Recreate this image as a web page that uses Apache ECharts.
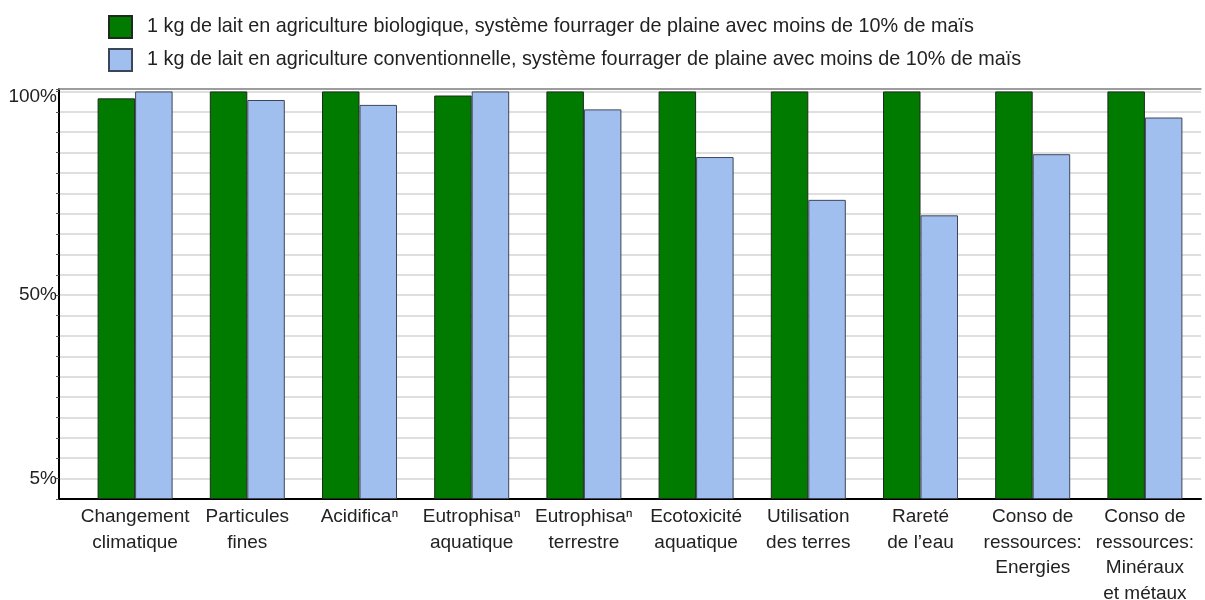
<!DOCTYPE html>
<html>
<head>
<meta charset="utf-8">
<script src="https://cdn.jsdelivr.net/npm/echarts@6/dist/echarts.min.js"></script>
<style>
  html, body { margin: 0; padding: 0; background: #fff; }
  #main { width: 1205px; height: 600px; }
</style>
</head>
<body>
<div id="main"></div>
<script>
var categories = [
  'Changement\nclimatique', 'Particules\nfines', 'Acidificaⁿ', 'Eutrophisaⁿ\naquatique',
  'Eutrophisaⁿ\nterrestre', 'Ecotoxicité\naquatique', 'Utilisation\ndes terres',
  'Rareté\nde l’eau', 'Conso de\nressources:\nEnergies', 'Conso de\nressources:\nMinéraux\net métaux'
];
var seriesNames = [
  '1 kg de lait en agriculture biologique, système fourrager de plaine avec moins de 10% de maïs',
  '1 kg de lait en agriculture conventionnelle, système fourrager de plaine avec moins de 10% de maïs'
];
var bioValues = [98.3, 100, 100, 99.0, 100, 100, 100, 100, 100, 100];
var convValues = [100, 97.9, 96.7, 100, 95.6, 83.9, 73.4, 69.6, 84.6, 93.6];
var yTickLabels = [5, 50, 100];

var FONT = "'Liberation Sans', sans-serif";
var chart = echarts.init(document.getElementById('main'));

var option = {
  backgroundColor: '#fff',
  animation: false,
  textStyle: { fontFamily: FONT },
  legend: {
    orient: 'vertical',
    left: 108,
    top: 15,
    padding: 0,
    itemWidth: 23,
    itemHeight: 22,
    itemGap: 9,
    icon: 'rect',
    data: seriesNames,
    textStyle: { fontFamily: FONT, fontSize: 19.8, color: '#222', padding: [0, 0, 0, 10] }
  },
  grid: [
    { left: 79, right: 4, top: 89, bottom: 101, outerBoundsMode: 'none' },
    { left: 59, right: 4, top: 89, bottom: 101, outerBoundsMode: 'none' }
  ],
  xAxis: [
    {
      gridIndex: 0,
      type: 'category',
      data: categories,
      axisLine: { show: false },
      axisTick: { show: false },
      axisLabel: { fontFamily: FONT, fontSize: 19, color: '#222', lineHeight: 25.4, margin: 5.5, interval: 0 }
    },
    {
      gridIndex: 1,
      type: 'category',
      data: [''],
      position: 'bottom',
      axisLine: { lineStyle: { color: '#000', width: 2 } },
      axisTick: { show: false },
      axisLabel: { show: false }
    },
    {
      gridIndex: 1,
      type: 'category',
      data: [''],
      position: 'top',
      axisLine: { lineStyle: { color: '#888', width: 1.5 } },
      axisTick: { show: false },
      axisLabel: { show: false }
    }
  ],
  yAxis: [
    {
      gridIndex: 0,
      type: 'value',
      min: 0,
      max: 100.6,
      interval: 5,
      show: false
    },
    {
      gridIndex: 1,
      type: 'value',
      min: 0,
      max: 100.6,
      interval: 5,
      axisLine: { show: true, lineStyle: { color: '#000', width: 2 } },
      axisTick: { show: true, length: 3, lineStyle: { color: '#555' } },
      splitLine: { show: true, lineStyle: { color: '#d4d4d4', width: 1.5 } },
      axisLabel: {
        fontFamily: FONT, fontSize: 19, color: '#222', margin: 2,
        formatter: function (v) {
          if (v === 100) return '{t|100%}';
          return yTickLabels.indexOf(v) >= 0 ? v + '%' : '';
        },
        rich: { t: { fontFamily: FONT, fontSize: 19, color: '#222', padding: [11, 0, 0, 0] } }
      }
    }
  ],
  series: [
    {
      name: seriesNames[0],
      type: 'bar',
      xAxisIndex: 0,
      yAxisIndex: 0,
      data: bioValues,
      barWidth: 37.5,
      barGap: '0%',
      itemStyle: { color: '#007b00', borderColor: '#1d2a1d', borderWidth: 1 }
    },
    {
      name: seriesNames[1],
      type: 'bar',
      xAxisIndex: 0,
      yAxisIndex: 0,
      data: convValues,
      barWidth: 37.5,
      barGap: '0%',
      itemStyle: { color: '#a0bfee', borderColor: '#3c4658', borderWidth: 1 }
    }
  ]
};

chart.setOption(option);
</script>
</body>
</html>
